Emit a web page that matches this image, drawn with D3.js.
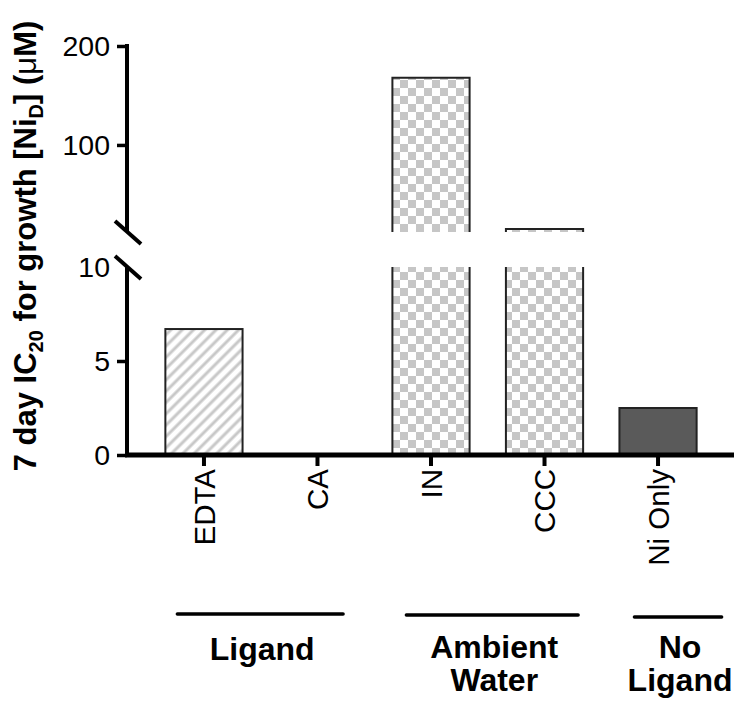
<html>
  <head>
    <meta charset="utf-8">
    <script src="https://cdn.jsdelivr.net/npm/d3@7/dist/d3.min.js" charset="utf-8"></script>
    <style>
      body { margin: 0; background: #fff; }
      svg { font-family: "Liberation Sans", Arial, sans-serif; }
    </style>
  </head>
  <body>
    <div id="main"></div>
  <script>
    // data
    var categories = ['EDTA', 'CA', 'IN', 'CCC', 'Ni Only'];
    var values = [6.7, null, 168, 15, 2.5];   // CA: no bar drawn
    var fills = ['hatch', 'none', 'checker', 'checker', 'solid'];
    var lowTicks = [0, 5, 10];
    var highTicks = [100, 200];
    var groupNames = [['Ligand'], ['Ambient', 'Water'], ['No', 'Ligand']];
    var groupFirst = ['EDTA', 'IN', 'Ni Only'];
    var groupLast = ['CA', 'CCC', 'Ni Only'];

    var svgWidth = 734;
    var svgHeight = 709;
    var axisX = 127;
    var baseY = 455;
    var breakBottom = 267;   // where the lower segment starts
    var breakTop = 232;      // where the upper segment ends

    var svg = d3.select('#main')
      .append('svg')
      .attr('width', svgWidth)
      .attr('height', svgHeight);

    // patterns
    var defs = svg.append('defs');
    var hatch = defs.append('pattern')
      .attr('id', 'hatch')
      .attr('patternUnits', 'userSpaceOnUse')
      .attr('width', 8).attr('height', 8)
      .attr('patternTransform', 'rotate(45)');
    hatch.append('rect').attr('width', 8).attr('height', 8).attr('fill', '#fff');
    hatch.append('line')
      .attr('x1', 2).attr('y1', 0).attr('x2', 2).attr('y2', 8)
      .attr('stroke', '#c8c8c8').attr('stroke-width', 3);

    var checker = defs.append('pattern')
      .attr('id', 'checker')
      .attr('patternUnits', 'userSpaceOnUse')
      .attr('width', 16).attr('height', 16);
    checker.append('rect').attr('width', 16).attr('height', 16).attr('fill', '#fff');
    checker.append('rect').attr('width', 8).attr('height', 8).attr('fill', '#c6c6c6');
    checker.append('rect').attr('x', 8).attr('y', 8).attr('width', 8).attr('height', 8).attr('fill', '#c6c6c6');

    function fillOf(f) {
      if (f === 'hatch') return 'url(#hatch)';
      if (f === 'checker') return 'url(#checker)';
      if (f === 'solid') return '#5a5a5a';
      return 'none';
    }

    // scales: broken y axis, two segments
    var x = d3.scaleBand()
      .domain(categories)
      .range([axisX, 735])
      .paddingInner(0.32)
      .paddingOuter(0.338);

    var yLow = d3.scaleLinear().domain([0, 10]).range([baseY, breakBottom]);
    var yHigh = d3.scaleLinear().domain([10, 200]).range([234, 46]);

    // bars
    var bw = x.bandwidth();
    categories.forEach(function(c, i) {
      var v = values[i];
      if (v == null || v <= 0) return;
      var x0 = x(c), x1 = x(c) + bw;
      var g = svg.append('g');
      if (v <= 10) {
        g.append('rect')
          .attr('x', x0).attr('y', yLow(v))
          .attr('width', bw).attr('height', baseY - yLow(v))
          .attr('fill', fillOf(fills[i]))
          .attr('stroke', '#222').attr('stroke-width', 2);
      } else {
        // lower piece, open at the break
        g.append('rect')
          .attr('x', x0).attr('y', breakBottom)
          .attr('width', bw).attr('height', baseY - breakBottom)
          .attr('fill', fillOf(fills[i]));
        g.append('path')
          .attr('d', 'M' + x0 + ',' + breakBottom + 'V' + baseY + 'H' + x1 + 'V' + breakBottom)
          .attr('fill', 'none').attr('stroke', '#222').attr('stroke-width', 2);
        // upper piece, open at the break
        var top = yHigh(v);
        g.append('rect')
          .attr('x', x0).attr('y', top)
          .attr('width', bw).attr('height', breakTop - top)
          .attr('fill', fillOf(fills[i]));
        g.append('path')
          .attr('d', 'M' + x0 + ',' + breakTop + 'V' + top + 'H' + x1 + 'V' + breakTop)
          .attr('fill', 'none').attr('stroke', '#222').attr('stroke-width', 2);
      }
    });

    // y axis, lower segment
    var lowAxis = svg.append('g')
      .attr('transform', 'translate(' + axisX + ',0)')
      .call(d3.axisLeft(yLow).tickValues(lowTicks).tickSize(10).tickSizeOuter(0).tickPadding(7));
    // y axis, upper segment
    var highAxis = svg.append('g')
      .attr('transform', 'translate(' + axisX + ',0)')
      .call(d3.axisLeft(yHigh).tickValues(highTicks).tickSize(10).tickSizeOuter(0).tickPadding(7));

    [lowAxis, highAxis].forEach(function(a) {
      a.select('.domain').remove();
      a.selectAll('.tick line').attr('stroke', '#000').attr('stroke-width', 3.5);
      a.selectAll('.tick text')
        .attr('font-size', 28.5)
        .attr('font-family', '"Liberation Sans", Arial, sans-serif')
        .attr('fill', '#000');
    });
    // no tick mark at 10 (the break marks take its place)
    lowAxis.selectAll('.tick').filter(function(d) { return d === 10; }).select('line').remove();

    svg.append('line')
      .attr('x1', axisX).attr('x2', axisX)
      .attr('y1', baseY).attr('y2', breakBottom)
      .attr('stroke', '#000').attr('stroke-width', 4);
    svg.append('line')
      .attr('x1', axisX).attr('x2', axisX)
      .attr('y1', breakTop).attr('y2', yHigh(200) - 2)
      .attr('stroke', '#000').attr('stroke-width', 4);

    // break marks
    [breakTop, breakBottom].forEach(function(yb) {
      svg.append('line')
        .attr('x1', axisX - 12).attr('y1', yb - 11)
        .attr('x2', axisX + 14).attr('y2', yb + 12)
        .attr('stroke', '#000').attr('stroke-width', 4);
    });

    // x axis
    var xAxis = svg.append('g')
      .attr('transform', 'translate(0,' + baseY + ')')
      .call(d3.axisBottom(x).tickSize(11).tickSizeOuter(0));
    xAxis.select('.domain')
      .attr('d', 'M' + (axisX - 2) + ',0H' + svgWidth)
      .attr('stroke', '#000').attr('stroke-width', 5);
    xAxis.selectAll('.tick line').attr('stroke', '#000').attr('stroke-width', 4);
    xAxis.selectAll('.tick text')
      .attr('font-size', 29.5)
      .attr('font-family', '"Liberation Sans", Arial, sans-serif')
      .attr('fill', '#000')
      .attr('transform', 'rotate(-90)')
      .attr('x', -14).attr('y', 0).attr('dy', '0.36em')
      .attr('text-anchor', 'end');

    // y axis title
    var yTitle = svg.append('text')
      .attr('transform', 'translate(36,246) rotate(-90)')
      .attr('text-anchor', 'middle')
      .attr('font-size', 31)
      .attr('font-weight', 'bold');
    yTitle.append('tspan').text('7 day IC');
    yTitle.append('tspan').attr('font-size', 20).attr('dy', 7).text('20');
    yTitle.append('tspan').attr('dy', -7).text(' for growth [Ni');
    yTitle.append('tspan').attr('font-size', 20).attr('dy', 7).text('D');
    yTitle.append('tspan').attr('dy', -7).text('] (');
    yTitle.append('tspan').attr('font-weight', 'normal').text('\u03bc');
    yTitle.append('tspan').text('M)');

    // group brackets
    var groupLayout = [[12, -13], [14, -5], [15, 25]];
    groupNames.forEach(function(lines, i) {
      var gx0 = x(groupFirst[i]) + groupLayout[i][0];
      var gx1 = x(groupLast[i]) + bw + groupLayout[i][1];
      var gy = 614 + (i === 0 ? 0 : i === 1 ? 1 : 3);
      svg.append('line')
        .attr('x1', gx0).attr('x2', gx1)
        .attr('y1', gy).attr('y2', gy)
        .attr('stroke', '#000').attr('stroke-width', 3.5)
        .attr('stroke-linecap', 'round');
      var t = svg.append('text')
        .attr('text-anchor', 'middle')
        .attr('font-size', 32)
        .attr('font-weight', 'bold');
      lines.forEach(function(s, j) {
        t.append('tspan')
          .attr('x', (gx0 + gx1) / 2 + 2)
          .attr('y', (lines.length === 1 ? 660 : 658) + j * 33)
          .text(s);
      });
    });
   </script>
  </body>
</html>
